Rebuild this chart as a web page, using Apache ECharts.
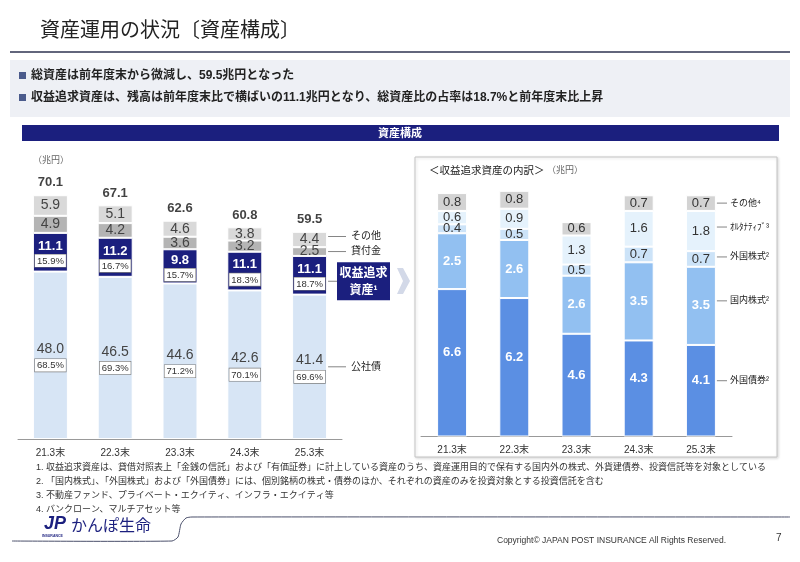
<!DOCTYPE html>
<html lang="ja">
<head>
	<meta charset="utf-8">
	<title>資産運用の状況〔資産構成〕</title>
	<style>
		html, body { margin:0; padding:0; background:#fff; }
		#container { width:800px; height:562px; }
	</style>
</head>
<body>
	<div id="container"></div>
	<script src="https://cdn.jsdelivr.net/npm/echarts@6/dist/echarts.min.js"></script>
	<script>
		// ---- data ----
		let years = ['21.3末', '22.3末', '23.3末', '24.3末', '25.3末'];

		// 資産構成 (兆円)
		let bonds = [48.0, 46.5, 44.6, 42.6, 41.4];          // 公社債
		let returnSeeking = [11.1, 11.2, 9.8, 11.1, 11.1];   // 収益追求資産
		let loans = [4.9, 4.2, 3.6, 3.2, 2.5];               // 貸付金
		let others = [5.9, 5.1, 4.6, 3.8, 4.4];              // その他
		let totals = [70.1, 67.1, 62.6, 60.8, 59.5];
		let bondsPct = ['68.5%', '69.3%', '71.2%', '70.1%', '69.6%'];
		let returnPct = ['15.9%', '16.7%', '15.7%', '18.3%', '18.7%'];

		// 収益追求資産の内訳 (兆円)
		let foreignBonds = [6.6, 6.2, 4.6, 4.3, 4.1];    // 外国債券
		let domesticStocks = [2.5, 2.6, 2.6, 3.5, 3.5];  // 国内株式
		let foreignStocks = [0.4, 0.5, 0.5, 0.7, 0.7];   // 外国株式
		let alternatives = [0.6, 0.9, 1.3, 1.6, 1.8];    // オルタナティブ
		let otherRS = [0.8, 0.8, 0.6, 0.7, 0.7];         // その他

		let footnotes = [
			'1. 収益追求資産は、貸借対照表上「金銭の信託」および「有価証券」に計上している資産のうち、資産運用目的で保有する国内外の株式、外貨建債券、投資信託等を対象としている',
			'2. 「国内株式」、「外国株式」および「外国債券」には、個別銘柄の株式・債券のほか、それぞれの資産のみを投資対象とする投資信託を含む',
			'3. 不動産ファンド、プライベート・エクイティ、インフラ・エクイティ等',
			'4. バンクローン、マルチアセット等'
		];

		const FONT = "'Liberation Sans','Noto Sans CJK JP',sans-serif";
		const NAVY = '#1b1f7e';

		let dom = document.getElementById('container');
		let myChart = echarts.init(dom, null, { renderer: 'canvas' });

		let pctBox = {
			fontSize: 9.5, color: '#333', backgroundColor: '#fff',
			borderColor: '#777', borderWidth: 0.6, padding: [2, 2, 1, 2], fontFamily: FONT
		};
		function plainLabel(color, size, bold) {
			return {
				show: true, position: 'inside', color: color, fontSize: size,
				fontWeight: bold ? 'bold' : 'normal', fontFamily: FONT,
				formatter: p => p.value.toFixed(1)
			};
		}
		function catAxis(idx) {
			return {
				type: 'category', gridIndex: idx, data: years,
				axisLine: { lineStyle: { color: '#999' } },
				axisTick: { show: false },
				axisLabel: { fontSize: 10, color: '#333', margin: 9, fontFamily: FONT }
			};
		}

		let option = {
			animation: false,
			textStyle: { fontFamily: FONT },
			grid: [
				{ left: 18, top: 160, width: 324, height: 279 },
				{ left: 421, top: 168.5, width: 311, height: 268 }
			],
			xAxis: [catAxis(0), catAxis(1)],
			yAxis: [
				{ type: 'value', gridIndex: 0, min: 0, max: 80, show: false },
				{ type: 'value', gridIndex: 1, min: 0, max: 12, show: false }
			],
			series: [
				{
					name: '公社債', type: 'bar', stack: 'L', barWidth: 35, data: bonds,
					itemStyle: { color: '#d7e5f5', borderColor: '#fff', borderWidth: 1 },
					label: {
						show: true, position: 'inside', color: '#444',
						formatter: p => '{v|' + p.value.toFixed(1) + '}\n{p|' + bondsPct[p.dataIndex] + '}',
						rich: { v: { fontSize: 14, color: '#444', lineHeight: 20, fontFamily: FONT }, p: pctBox }
					}
				},
				{
					name: '収益追求資産', type: 'bar', stack: 'L', barWidth: 35, data: returnSeeking,
					itemStyle: { color: NAVY, borderColor: '#fff', borderWidth: 1 },
					label: {
						show: true, position: 'inside', color: '#fff',
						formatter: p => '{v|' + p.value.toFixed(1) + '}\n{p|' + returnPct[p.dataIndex] + '}',
						rich: { v: { fontSize: 13, fontWeight: 'bold', color: '#fff', lineHeight: 17, fontFamily: FONT }, p: pctBox }
					}
				},
				{
					name: '貸付金', type: 'bar', stack: 'L', barWidth: 35, data: loans,
					itemStyle: { color: '#b4b4b4', borderColor: '#fff', borderWidth: 1 },
					label: plainLabel('#444', 14)
				},
				{
					name: 'その他', type: 'bar', stack: 'L', barWidth: 35, data: others,
					itemStyle: { color: '#d9d9d9', borderColor: '#fff', borderWidth: 1 },
					label: plainLabel('#444', 14)
				},
				{
					// 総資産 (label only)
					name: '総資産', type: 'scatter', data: totals, symbolSize: 1, silent: true,
					itemStyle: { color: 'transparent' },
					label: {
						show: true, position: 'top', distance: 5, color: '#111', fontSize: 13,
						fontWeight: 'bold', fontFamily: FONT, formatter: p => p.value.toFixed(1)
					}
				},
				{
					name: '外国債券', type: 'bar', stack: 'R', xAxisIndex: 1, yAxisIndex: 1, barWidth: 30, data: foreignBonds,
					itemStyle: { color: '#5b8fe3', borderColor: '#fff', borderWidth: 1 },
					label: Object.assign(plainLabel('#fff', 13, true), { offset: [0, -10] })
				},
				{
					name: '国内株式', type: 'bar', stack: 'R', xAxisIndex: 1, yAxisIndex: 1, barWidth: 30, data: domesticStocks,
					itemStyle: { color: '#92c0f1', borderColor: '#fff', borderWidth: 1 },
					label: plainLabel('#fff', 13, true)
				},
				{
					name: '外国株式', type: 'bar', stack: 'R', xAxisIndex: 1, yAxisIndex: 1, barWidth: 30, data: foreignStocks,
					itemStyle: { color: '#cce3f8', borderColor: '#fff', borderWidth: 1 },
					label: plainLabel('#333', 13)
				},
				{
					name: 'オルタナティブ', type: 'bar', stack: 'R', xAxisIndex: 1, yAxisIndex: 1, barWidth: 30, data: alternatives,
					itemStyle: { color: '#e5f2fc', borderColor: '#fff', borderWidth: 1 },
					label: plainLabel('#333', 13)
				},
				{
					name: 'その他R', type: 'bar', stack: 'R', xAxisIndex: 1, yAxisIndex: 1, barWidth: 30, data: otherRS,
					itemStyle: { color: '#d3d3d3', borderColor: '#fff', borderWidth: 1 },
					label: plainLabel('#333', 13)
				}
			]
		};
		myChart.setOption(option);

		// ---- decorations (title, notes, footer) ----
		function txt(x, y, s, size, color, opts) {
			opts = opts || {};
			return {
				type: 'text', z: opts.z || 10, silent: true,
				style: {
					x: x, y: y, text: s, fontSize: size, fill: color, fontFamily: FONT,
					fontWeight: opts.bold ? 'bold' : 'normal', fontStyle: opts.italic ? 'italic' : 'normal',
					textAlign: opts.align || 'left', textVerticalAlign: 'middle'
				}
			};
		}
		let g = [
			txt(40, 31, '資産運用の状況〔資産構成〕', 20, '#222'),
			{ type: 'line', silent: true, shape: { x1: 10, y1: 52, x2: 790, y2: 52 }, style: { stroke: '#2e3350', lineWidth: 1.5 } },
			{ type: 'rect', silent: true, z: -1, shape: { x: 10, y: 60, width: 780, height: 57 }, style: { fill: '#eef0f5' } },
			{ type: 'rect', silent: true, shape: { x: 19, y: 72, width: 7, height: 7 }, style: { fill: '#4b5b8c' } },
			{ type: 'rect', silent: true, shape: { x: 19, y: 94, width: 7, height: 7 }, style: { fill: '#4b5b8c' } },
			txt(31, 76, '総資産は前年度末から微減し、59.5兆円となった', 12, '#222', { bold: true }),
			txt(31, 98, '収益追求資産は、残高は前年度末比で横ばいの11.1兆円となり、総資産比の占率は18.7%と前年度末比上昇', 12, '#222', { bold: true }),
			{ type: 'rect', silent: true, shape: { x: 22, y: 125, width: 757, height: 16 }, style: { fill: NAVY } },
			txt(400, 133.5, '資産構成', 11, '#fff', { bold: true, align: 'center' }),
			txt(33, 161, '（兆円）', 9, '#666'),
			// right panel
			{
				type: 'rect', silent: true, z: -1, shape: { x: 415, y: 157, width: 362, height: 300 },
				style: { fill: '#fff', stroke: '#c4c4c4', lineWidth: 1, shadowBlur: 3, shadowColor: 'rgba(0,0,0,0.15)', shadowOffsetX: 1, shadowOffsetY: 1 }
			},
			txt(429, 171, '＜収益追求資産の内訳＞', 10.5, '#222'),
			txt(547, 171, '（兆円）', 9, '#666'),
			// arrow between charts
			{
				type: 'polygon', silent: true,
				shape: { points: [[397, 268], [403, 268], [410, 281], [403, 294], [397, 294], [403, 281]] },
				style: { fill: '#d3d9e8' }
			},
			// footer
			{
				type: 'polyline', silent: true,
				shape: { points: [[12, 541], [172, 541], [178, 537], [181, 524], [186, 518], [192, 517], [790, 517]], smooth: 0.2 },
				style: { stroke: '#4a4f6a', lineWidth: 1, fill: null }
			},
			txt(44, 524, 'JP', 18, NAVY, { bold: true, italic: true }),
			txt(42, 536, 'INSURANCE', 3.5, NAVY, { bold: true }),
			txt(71, 527, 'かんぽ生命', 16, NAVY),
			txt(497, 541, 'Copyright© JAPAN POST INSURANCE All Rights Reserved.', 8.5, '#333'),
			txt(776, 538, '7', 10, '#333')
		];
		footnotes.forEach(function (s, i) {
			g.push(txt(36, 468 + i * 13.7, s, 9, '#333'));
		});

		// ---- series name labels at the right of the last bars ----
		function px(grid, v) {
			return myChart.convertToPixel({ gridIndex: grid }, [years[4], v]);
		}
		function sideLabel(grid, v, name, barHalf, lineEnd, textX, dy, size) {
			let p = px(grid, v);
			let y = p[1] + (dy || 0);
			g.push({ type: 'line', silent: true, shape: { x1: p[0] + barHalf + 1, y1: y, x2: lineEnd, y2: y }, style: { stroke: '#666', lineWidth: 0.8 } });
			g.push(txt(textX, y, name, size, '#222'));
		}
		let b4 = bonds[4], r4 = returnSeeking[4], l4 = loans[4], o4 = others[4];
		sideLabel(0, b4 + r4 + l4 + o4 / 2, 'その他', 17.5, 346, 351, -3, 10);
		sideLabel(0, b4 + r4 + l4 / 2, '貸付金', 17.5, 346, 351, 0, 10);
		sideLabel(0, b4 / 2, '公社債', 17.5, 346, 351, 0, 10);
		// 収益追求資産 box
		let rp = px(0, b4 + r4 / 2);
		let ry = rp[1] + 6;
		g.push({ type: 'line', silent: true, shape: { x1: rp[0] + 18.5, y1: ry, x2: 337, y2: ry }, style: { stroke: '#666', lineWidth: 0.8 } });
		g.push({ type: 'rect', silent: true, shape: { x: 337, y: ry - 19, width: 53, height: 38 }, style: { fill: NAVY } });
		g.push(txt(363.5, ry - 8, '収益追求', 12, '#fff', { bold: true, align: 'center' }));
		g.push(txt(363.5, ry + 9, '資産¹', 12, '#fff', { bold: true, align: 'center' }));

		let f4 = foreignBonds[4], d4 = domesticStocks[4], s4 = foreignStocks[4], a4 = alternatives[4], x4 = otherRS[4];
		sideLabel(1, f4 + d4 + s4 + a4 + x4 / 2, 'その他⁴', 15, 727, 730, 0, 9);
		sideLabel(1, f4 + d4 + s4 + a4 / 2, 'ｵﾙﾀﾅﾃｨﾌﾞ³', 15, 727, 730, -4, 9);
		sideLabel(1, f4 + d4 + s4 / 2, '外国株式²', 15, 727, 730, -2, 9);
		sideLabel(1, f4 + d4 / 2, '国内株式²', 15, 727, 730, -5, 9);
		sideLabel(1, f4 / 2, '外国債券²', 15, 727, 730, -10, 9);

		myChart.setOption({ graphic: g });

		window.addEventListener('resize', myChart.resize);
	</script>
</body>
</html>
